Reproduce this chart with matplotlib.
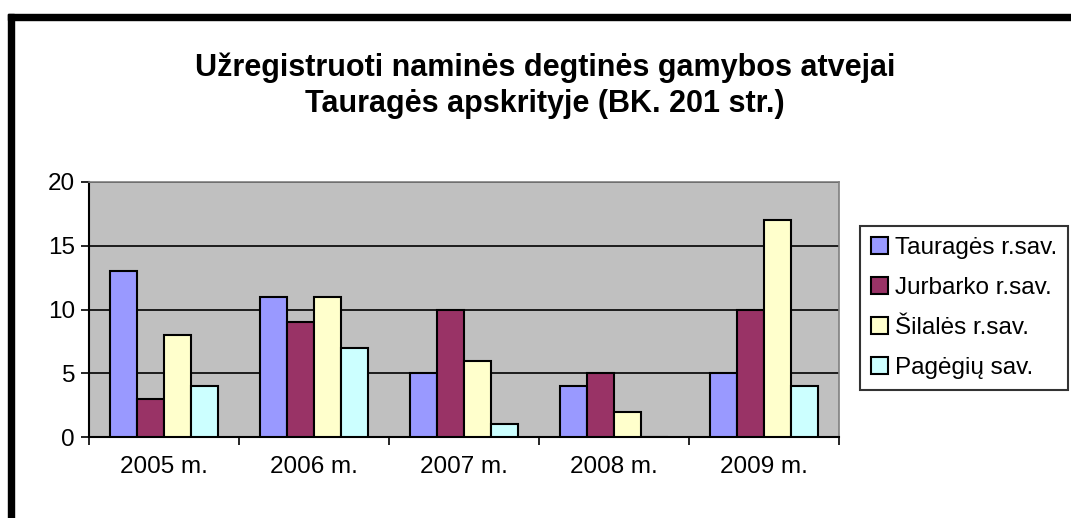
import matplotlib
matplotlib.use("Agg")
import matplotlib.pyplot as plt
from matplotlib.patches import Rectangle
import numpy as np

plt.rcParams['font.family'] = ['Liberation Sans', 'DejaVu Sans']

# data
years = ["2005 m.", "2006 m.", "2007 m.", "2008 m.", "2009 m."]
taurages = [13, 11, 5, 4, 5]
jurbarko = [3, 9, 10, 5, 10]
silales = [8, 11, 6, 2, 17]
pagegiu = [4, 7, 1, 0, 4]
series_names = ["Tauragės r.sav.", "Jurbarko r.sav.", "Šilalės r.sav.", "Pagėgių sav."]
colors = ["#9999FF", "#993366", "#FFFFCC", "#CCFFFF"]

fig = plt.figure(figsize=(10.71, 5.18), dpi=100)
ax = fig.add_axes([89/1071, 1-437/518, 750/1071, 255/518])
ax.set_facecolor("#C0C0C0")

x = np.arange(len(years))
w = 0.18
all_series = [taurages, jurbarko, silales, pagegiu]
for i, vals in enumerate(all_series):
    ax.bar(x + (i - 1.5) * w, vals, w, color=colors[i], edgecolor="black",
           linewidth=1.5, label=series_names[i], zorder=3)

ax.set_xlim(-0.5, 4.5)
ax.set_ylim(0, 20)
ax.set_yticks([0, 5, 10, 15, 20])
ax.yaxis.grid(True, color="black", linewidth=1.2, zorder=1)
ax.set_axisbelow(True)
ax.tick_params(axis="y", direction="out", length=6, width=1.2, pad=4, labelsize=17.5)

# category boundaries get the tick marks, centers get the labels
ax.set_xticks(np.arange(len(years) + 1) - 0.5)
ax.set_xticklabels([])
ax.set_xticks(x, minor=True)
ax.set_xticklabels(years, minor=True, fontsize=17.5)
ax.tick_params(axis="x", which="major", direction="out", length=6, width=1.2)
ax.tick_params(axis="x", which="minor", length=0, pad=14)

for s in ["left", "bottom"]:
    ax.spines[s].set_color("black")
    ax.spines[s].set_linewidth(1.5)
for s in ["top", "right"]:
    ax.spines[s].set_color("#808080")
    ax.spines[s].set_linewidth(1.2)

fig.text(545/1071, 1-86/518,
         "Užregistruoti naminės degtinės gamybos atvejai\nTauragės apskrityje (BK. 201 str.)",
         ha="center", va="center", fontsize=22, fontweight="bold", linespacing=1.25)

leg = ax.legend(loc="center left", bbox_to_anchor=(860/1071, 1-308/518),
                bbox_transform=fig.transFigure, fontsize=17.5, frameon=True,
                fancybox=False, edgecolor="black", handlelength=0.7,
                handleheight=0.7, handletextpad=0.3, labelspacing=0.75,
                borderpad=0.45, borderaxespad=0)
leg.get_frame().set_linewidth(1.5)

# the thick black frame at top and left of the screenshot
fig.patches.append(Rectangle((8/1071, 0), 6/1071, 1-14/518, transform=fig.transFigure,
                             color="black", zorder=10))
fig.patches.append(Rectangle((8/1071, 1-20/518), 1-8/1071, 6/518, transform=fig.transFigure,
                             color="black", zorder=10))

fig.savefig("out.png", dpi=100)
